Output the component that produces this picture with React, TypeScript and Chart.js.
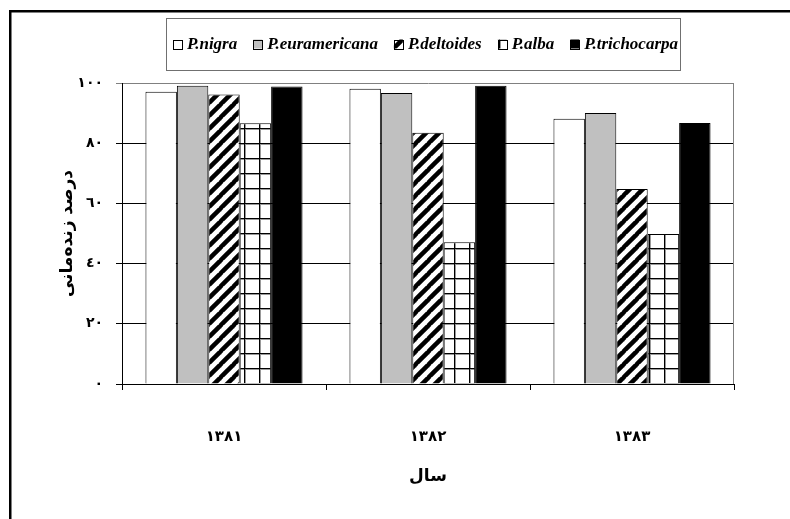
import React, { useEffect, useRef } from "react";
import { Chart, registerables } from "chart.js";

Chart.register(...registerables);

// ---- data ----
const years = ["١٣٨١", "١٣٨٢", "١٣٨٣"];
const seriesNames = ["P.nigra", "P.euramericana", "P.deltoides", "P.alba", "P.trichocarpa"];
const nigra = [97.1, 98.1, 88.1];
const euramericana = [99.1, 96.7, 90.0];
const deltoides = [96.2, 83.5, 64.8];
const alba = [86.6, 47.1, 49.8];
const trichocarpa = [98.8, 99.1, 86.7];
const yTickValues = [0, 20, 40, 60, 80, 100];
const yTickLabels = ["٠", "٢٠", "٤٠", "٦٠", "٨٠", "١٠٠"];
const yTitle = "درصد زنده‌مانی";
const xTitle = "سال";

function makeDiagonal(): CanvasPattern | string {
  const p = 13;
  const c = document.createElement("canvas");
  c.width = p;
  c.height = p;
  const g = c.getContext("2d");
  if (!g) return "#888";
  g.fillStyle = "#fff";
  g.fillRect(0, 0, p, p);
  g.strokeStyle = "#000";
  g.lineWidth = 4.5;
  for (const k of [-1, 0, 1]) {
    g.beginPath();
    g.moveTo(k * p - 1, p + 1);
    g.lineTo(k * p + p + 1, -1);
    g.stroke();
  }
  return g.createPattern(c, "repeat") || "#888";
}

function makeGrid(): CanvasPattern | string {
  const p = 15;
  const c = document.createElement("canvas");
  c.width = p;
  c.height = p;
  const g = c.getContext("2d");
  if (!g) return "#fff";
  g.fillStyle = "#fff";
  g.fillRect(0, 0, p, p);
  g.fillStyle = "#999";
  g.fillRect(0, 1, p, 1);
  g.fillRect(1, 0, 1, p);
  g.fillStyle = "#000";
  g.fillRect(0, 0, p, 1);
  g.fillRect(0, 0, 1, p);
  const pat = g.createPattern(c, "repeat");
  if (!pat) return "#fff";
  try {
    pat.setTransform(new DOMMatrix().translate(4, 8));
  } catch (e) {
    /* ignore */
  }
  return pat;
}

const framePlugin = {
  id: "framePlugin",
  afterDraw(chart: any) {
    const ctx = chart.ctx as CanvasRenderingContext2D;
    const a = chart.chartArea;
    ctx.save();
    // right border of plot area
    ctx.strokeStyle = "#808080";
    ctx.lineWidth = 1;
    ctx.beginPath();
    ctx.moveTo(Math.round(a.right) - 0.5, a.top);
    ctx.lineTo(Math.round(a.right) - 0.5, a.bottom);
    ctx.stroke();
    // outer frame
    ctx.strokeStyle = "#000";
    ctx.lineWidth = 2.5;
    ctx.strokeRect(10.25, 11.25, 820, 540);
    // legend box
    ctx.strokeStyle = "#707070";
    ctx.lineWidth = 1;
    ctx.strokeRect(166.5, 18.5, 514, 52);
    ctx.font = 'italic bold 17px "Liberation Serif"';
    ctx.textBaseline = "middle";
    ctx.textAlign = "left";
    const ds = chart.data.datasets;
    const widths = ds.map((d: any) => ctx.measureText(d.label).width);
    const sq = 9;
    const gapIn = 5;
    const startX = 173;
    const endX = 678;
    const total = widths.reduce((s: number, w: number) => s + w, 0) + ds.length * (sq + gapIn);
    const gap = (endX - startX - total) / (ds.length - 1);
    const cy = 44;
    let x = startX;
    ds.forEach((d: any, i: number) => {
      ctx.fillStyle = d.backgroundColor;
      ctx.fillRect(x, cy - sq / 2, sq, sq);
      ctx.strokeStyle = "#000";
      ctx.strokeRect(Math.round(x) + 0.5, Math.round(cy - sq / 2) + 0.5, sq, sq);
      ctx.fillStyle = "#000";
      ctx.fillText(d.label, x + sq + gapIn, cy + 1);
      x += sq + gapIn + widths[i] + gap;
    });
    ctx.restore();
  },
};

export default function App() {
  const ref = useRef<HTMLCanvasElement | null>(null);
  useEffect(() => {
    if (!ref.current) return;
    const diag = makeDiagonal();
    const grid = makeGrid();
    const values = [nigra, euramericana, deltoides, alba, trichocarpa];
    const fills: any[] = ["#ffffff", "#c0c0c0", diag, grid, "#000000"];
    const chart = new Chart(ref.current, {
      type: "bar",
      data: {
        labels: years,
        datasets: seriesNames.map((name, i) => ({
          label: name,
          data: values[i],
          backgroundColor: fills[i],
          borderColor: "#000",
          borderWidth: 1,
          categoryPercentage: 0.77,
          barPercentage: 1,
        })),
      },
      options: {
        responsive: false,
        animation: false,
        devicePixelRatio: 1,
        layout: { padding: { left: 10, right: 56, top: 83, bottom: 0 } },
        plugins: {
          legend: { display: false },
          tooltip: { enabled: false },
        },
        scales: {
          x: {
            grid: {
              display: true,
              drawOnChartArea: false,
              drawTicks: true,
              tickLength: 6,
              color: "#000",
              offset: true,
            },
            border: { display: true, color: "#000", width: 1 },
            ticks: {
              padding: 38,
              color: "#000",
              font: { family: "DejaVu Sans", size: 15, weight: "bold" },
            },
            title: {
              display: true,
              text: xTitle,
              color: "#000",
              font: { family: "DejaVu Sans", size: 17, weight: "bold" },
              padding: { top: 0, bottom: 32 },
            },
            afterFit: (s: any) => {
              s.height = 519 - 384;
            },
          },
          y: {
            min: 0,
            max: 100,
            grid: {
              color: (c: any) => (c.tick && c.tick.value === 100 ? "#808080" : "#000"),
              tickLength: 6,
              drawTicks: true,
            },
            border: { display: true, color: "#000", width: 1 },
            ticks: {
              stepSize: 20,
              padding: 13,
              color: "#000",
              font: { family: "DejaVu Sans", size: 14, weight: "bold" },
              callback: (v: any) => {
                const idx = yTickValues.indexOf(Number(v));
                return idx >= 0 ? yTickLabels[idx] : "";
              },
            },
            title: {
              display: true,
              text: yTitle,
              color: "#000",
              font: { family: "DejaVu Sans", size: 17, weight: "bold" },
              padding: { top: 47, bottom: 0 },
            },
            afterFit: (s: any) => {
              s.width = 122 - 10;
            },
          },
        },
      } as any,
      plugins: [framePlugin],
    });
    return () => chart.destroy();
  }, []);
  return (
    <div style={{ position: "fixed", left: 0, top: 0, width: 790, height: 519, background: "#fff" }}>
      <canvas ref={ref} width={790} height={519} style={{ display: "block" }} />
    </div>
  );
}
